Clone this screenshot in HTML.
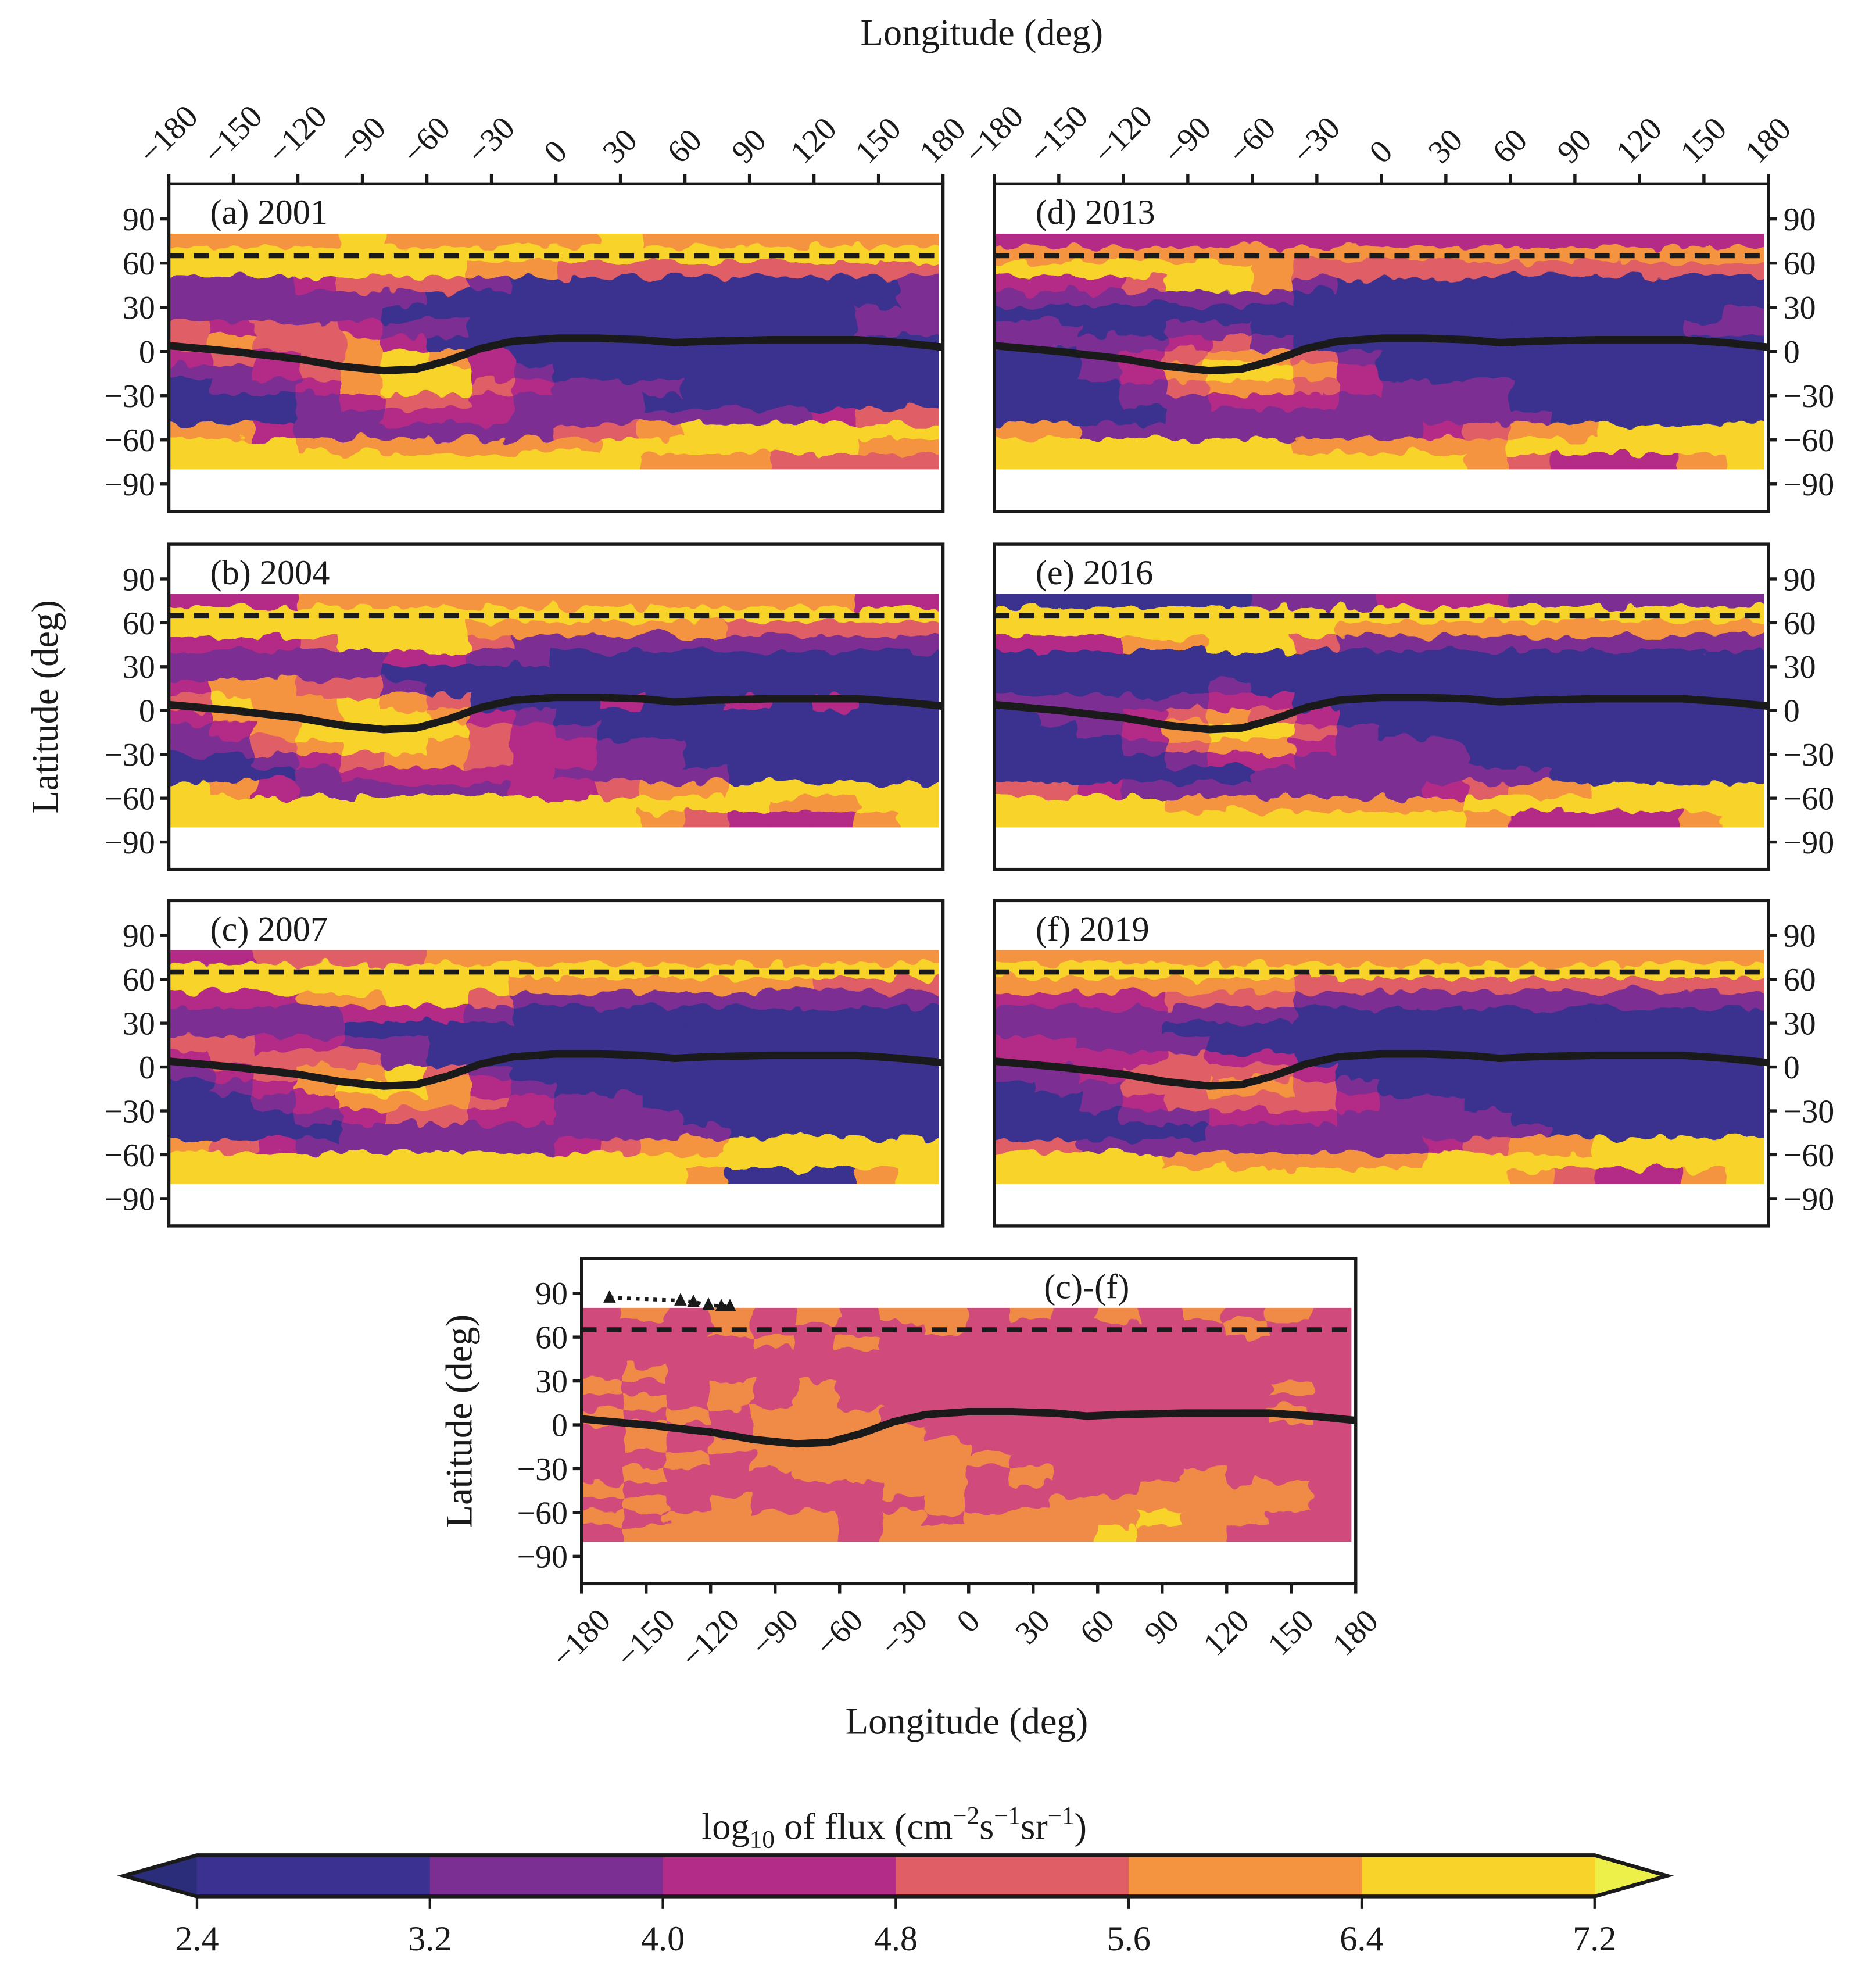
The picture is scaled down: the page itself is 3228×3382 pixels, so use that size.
<!DOCTYPE html>
<html><head><meta charset="utf-8">
<style>
html,body{margin:0;padding:0;background:#fff;}
svg{display:block;}
text{font-family:"Liberation Serif",serif;fill:#1a1a1a;}
</style></head>
<body>
<svg id="fig" xmlns="http://www.w3.org/2000/svg" width="3228" height="3382" viewBox="0 0 1500 1571.6">
<defs>
<filter id="rough" x="-5%" y="-5%" width="110%" height="110%">
<feTurbulence type="fractalNoise" baseFrequency="0.06" numOctaves="2" seed="3" result="n"/>
<feDisplacementMap in="SourceGraphic" in2="n" scale="16" xChannelSelector="R" yChannelSelector="G"/>
</filter>
</defs>
</svg>
<script>
// ---- data ----
const levels = ["<2.4","2.4","3.2","4.0","4.8","5.6","6.4",">7.2"];
const colorbarTicks = ["2.4","3.2","4.0","4.8","5.6","6.4","7.2"];
const lonTicks = [-180,-150,-120,-90,-60,-30,0,30,60,90,120,150,180];
const latTicks = [90,60,30,0,-30,-60,-90];
const gridLons = [-170,-150,-130,-110,-90,-70,-50,-30,-10,10,30,50,70,90,110,130,150,170];
const gridLats = [75,65,55,45,35,25,15,5,-5,-15,-25,-35,-45,-55,-65,-75];
const curveLon = [-180,-150,-120,-100,-80,-65,-50,-35,-20,0,20,40,55,70,100,140,160,180];
const curveLat = [4,0,-5,-10,-13,-12,-6,2,7,9,9,8,6,7,8,8,6,3];
const dashLat = 65;
const triLon = [-167,-134,-128,-121,-115,-111];
const triLat = [87,85,84,82,81,81];

const grid2001 = ["555565555565555555","666666666666666666","666666655444444444","222344421111111112","222222111111111112","222221111111111122","434432211111111122","454453111111111111","343456531111111111","223456632111111111","122356643222111111","111234432221111111","111223332222222344","553222222445666666","666555555566666655","666666666665554444"];
const grid2004 = ["333555555555555533","666666666666666666","666666655555544444","333466642222222222","222223322111111111","222221111111111111","355442111111111111","465565411131131311","355566532111111111","235666643211111111","224566543322111111","112345543322111111","111233333222211111","653222223345566666","666666666666665566","666666666665433356"];
const grid2007 = ["334444555555555555","666666666666666666","666666665555555444","333556642222222222","222233321111111111","222211111111111111","443322111111111111","344442111111111111","234556421111111111","123566532111111111","112355543221111111","111234433222111111","111122222222211111","543222222345566666","666666666666666666","666666666666511156"];
const grid2013 = ["333333333333333333","555555555555555555","666666544444444444","333466521111111111","222222211111111111","111111111111111112","221122111111111122","222234211111111111","112345542111111111","112356653111111111","111245543222111111","111223332222111111","111122222222211111","552222222234556666","666666655555666666","666666666665433356"];
const grid2016 = ["111111222333222222","666666666666666666","666666665555555555","333556642222222222","111111111111111111","111111111111111111","111112111111111111","222223311111111111","122345431111111111","112356642111111111","111245532221111111","111123322221111111","111111222222211111","443222222234556666","666655555556666666","666666666665333356"];
const grid2019 = ["555555555555555555","666666666666666666","555555544444444444","333344422222222222","222222211111111111","222211111111111111","332221111111111111","333343311111111111","223444431111111111","122445542111111111","112344443221111111","111223332222111111","111112222222211111","442222222234556666","666655555566666666","666666666666543356"];
const gridDiff = ["898989899898989898","888988889888888988","888898988888888888","888888888888888888","898888888888888888","988989888888888898","898989888888888888","989899988888888898","898899998888888888","898999999888888888","889899999988888888","898889999898889888","988888899888899998","898988889889999998","989999898999969988","899999899999699888"];

const palette = {"0":"#2c2a78","1":"#3b3190","2":"#7b2f92","3":"#b32c87","4":"#e05e66","5":"#f59440","6":"#f8d42a","7":"#eef04a","8":"#d04b7b","9":"#f08a46"};

const NS="http://www.w3.org/2000/svg";
const svg=document.getElementById('fig');
function mk(tag,attrs,parent){const e=document.createElementNS(NS,tag);for(const k in attrs)e.setAttribute(k,attrs[k]);(parent||svg).appendChild(e);return e;}
function txt(s,attrs,parent){const e=mk('text',attrs,parent);e.textContent=s;return e;}
function lab(v){return v<0?'\u2212'+(-v):String(v);}

const panels=[
 {id:'2001',label:'(a) 2001',x:135,y:147,h:262,grid:grid2001,side:'left',top:true},
 {id:'2004',label:'(b) 2004',x:135,y:435,h:260,grid:grid2004,side:'left'},
 {id:'2007',label:'(c) 2007',x:135,y:720,h:260,grid:grid2007,side:'left'},
 {id:'2013',label:'(d) 2013',x:795,y:147,h:262,grid:grid2013,side:'right',top:true},
 {id:'2016',label:'(e) 2016',x:795,y:435,h:260,grid:grid2016,side:'right'},
 {id:'2019',label:'(f) 2019',x:795,y:720,h:260,grid:grid2019,side:'right'},
 {id:'diff',label:'(c)-(f)',x:465,y:1006,h:260,grid:gridDiff,side:'left',bottom:true,diff:true}
];
const W=619, LATTOP=113.8, LATBOT=-108.7;

panels.forEach(p=>{
 const g=mk('g',{});
 
 
 const xs=lon=>p.x+(lon+180)/360*W;
 const ys=lat=>p.y+(LATTOP-lat)/(LATTOP-LATBOT)*p.h;
 const cid='clip-'+p.id;
 const cp=mk('clipPath',{id:cid},g);
 mk('rect',{x:xs(-180),y:ys(80),width:xs(178)-xs(-180),height:ys(-80)-ys(80)},cp);
 const outer=mk('g',{'clip-path':'url(#'+cid+')'},g);
 const hm=mk('g',{filter:'url(#rough)'},outer);
 
 
 const nR=p.grid.length;
 p.grid.forEach((row,ri)=>{
  const lat=gridLats[ri];
  for(let ci=0;ci<row.length;ci++){
   const lon=gridLons[ci];
   let x0=xs(lon-10)-1, x1=xs(lon+10)+1, y0=ys(lat+5)-1, y1=ys(lat-5)+1;
   if(ci===0)x0-=25; if(ci===row.length-1)x1+=25;
   if(ri===0)y0-=25; if(ri===nR-1)y1+=25;
   const r=mk('rect',{x:x0,y:y0,width:x1-x0,height:y1-y0,fill:palette[row[ci]]},hm);
   
   
  }
 });
 const dl=mk('line',{x1:xs(-180),x2:xs(180),y1:ys(dashLat),y2:ys(dashLat),stroke:'#1a1a1a','stroke-width':4,'stroke-dasharray':'12,8'},g);
 
 
 const pts=curveLon.map((l,i)=>xs(l).toFixed(1)+','+ys(curveLat[i]).toFixed(1)).join(' ');
 const cl=mk('polyline',{points:pts,fill:'none',stroke:'#1a1a1a','stroke-width':6,'stroke-linejoin':'round'},g);
 
 
 if(p.diff){
  const tp=triLon.map((l,i)=>xs(l).toFixed(1)+','+ys(triLat[i]).toFixed(1)).join(' ');
  const dot=mk('polyline',{points:tp,fill:'none',stroke:'#1a1a1a','stroke-width':3,'stroke-dasharray':'3,4'},g);
  
  
  triLon.forEach((l,i)=>{
   const cx=xs(l),cy=ys(triLat[i]);
   const t=mk('polygon',{points:`${cx-5},${cy+4} ${cx+5},${cy+4} ${cx},${cy-6}`,fill:'#1a1a1a'},g);
   
   
  });
 }
 const fr=mk('rect',{x:p.x,y:p.y,width:W,height:p.h,fill:'none',stroke:'#1a1a1a','stroke-width':2.5},g);
 
 
 const pl=txt(p.label,{x:p.diff?xs(35):p.x+33,y:p.y+32,'font-size':28},g);
 
 
 latTicks.forEach(v=>{
  const y=ys(v);
  const right=p.side==='right';
  const tx=right?p.x+W:p.x;
  mk('line',{x1:tx,x2:right?tx+7:tx-7,y1:y,y2:y,stroke:'#1a1a1a','stroke-width':2.5},g);
  const t=txt(lab(v),{x:right?tx+12:tx-11,y:y+9,'font-size':26,'text-anchor':right?'start':'end'},g);
  
  
 });
 if(p.top){
  lonTicks.forEach(v=>{
   const x=xs(v);
   mk('line',{x1:x,x2:x,y1:p.y,y2:p.y-8,stroke:'#1a1a1a','stroke-width':2.5},g);
   const s=lab(v);const L=s.length*13;const bh=(L+16)*0.707;
   const cy=132-bh/2;
   const t=txt(s,{x:x,y:cy+8,'font-size':26,'text-anchor':'middle',transform:`rotate(-45 ${x} ${cy})`},g);
   
   
  });
 }
 if(p.bottom){
  lonTicks.forEach(v=>{
   const x=xs(v);
   mk('line',{x1:x,x2:x,y1:p.y+p.h,y2:p.y+p.h+8,stroke:'#1a1a1a','stroke-width':2.5},g);
   const s=lab(v);const L=s.length*13;const bh=(L+16)*0.707;
   const cy=p.y+p.h+20+bh/2;
   const t=txt(s,{x:x,y:cy+8,'font-size':26,'text-anchor':'middle',transform:`rotate(-45 ${x} ${cy})`},g);
   
   
  });
 }
});

let t;
t=txt('Longitude (deg)',{x:785,y:36,'font-size':30,'text-anchor':'middle'});

t=txt('Latitude (deg)',{x:0,y:0,'font-size':30,'text-anchor':'middle',transform:'translate(46,565) rotate(-90)'});

t=txt('Latitude (deg)',{x:0,y:0,'font-size':30,'text-anchor':'middle',transform:'translate(377,1136) rotate(-90)'});

t=txt('Longitude (deg)',{x:773,y:1386,'font-size':30,'text-anchor':'middle'});


// colorbar
const cb=mk('g',{});


const cbx0=157.5,cbx1=1275,cby0=1483,cby1=1516;
const cym=(cby0+cby1)/2;
const segW=(cbx1-cbx0)/(colorbarTicks.length-1);
mk('polygon',{points:`99,${cym} ${cbx0},${cby0} ${cbx0},${cby1}`,fill:'#2b2c7a'},cb);
mk('polygon',{points:`1333,${cym} ${cbx1},${cby0} ${cbx1},${cby1}`,fill:palette['7']},cb);
for(let i=0;i<colorbarTicks.length-1;i++){
 const r=mk('rect',{x:cbx0+i*segW,y:cby0,width:segW+0.5,height:cby1-cby0,fill:palette[String(i+1)]},cb);
 
 
}
mk('polygon',{points:`99,${cym} ${cbx0},${cby0} ${cbx1},${cby0} 1333,${cym} ${cbx1},${cby1} ${cbx0},${cby1}`,fill:'none',stroke:'#1a1a1a','stroke-width':3},cb);
colorbarTicks.forEach((s,i)=>{
 const x=cbx0+i*segW;
 mk('line',{x1:x,x2:x,y1:cby1,y2:cby1+10,stroke:'#1a1a1a','stroke-width':2},cb);
 const tt=txt(s,{x:x,y:1559,'font-size':28,'text-anchor':'middle'},cb);
 
 
});
const ct=mk('text',{x:715,y:1470,'font-size':30,'text-anchor':'middle'},cb);


ct.innerHTML='log<tspan font-size="20" dy="7">10</tspan><tspan dy="-7"> of flux (cm</tspan><tspan font-size="20" dy="-12">\u22122</tspan><tspan dy="12">s</tspan><tspan font-size="20" dy="-12">\u22121</tspan><tspan dy="12">sr</tspan><tspan font-size="20" dy="-12">\u22121</tspan><tspan dy="12">)</tspan>';
</script>
</body></html>
